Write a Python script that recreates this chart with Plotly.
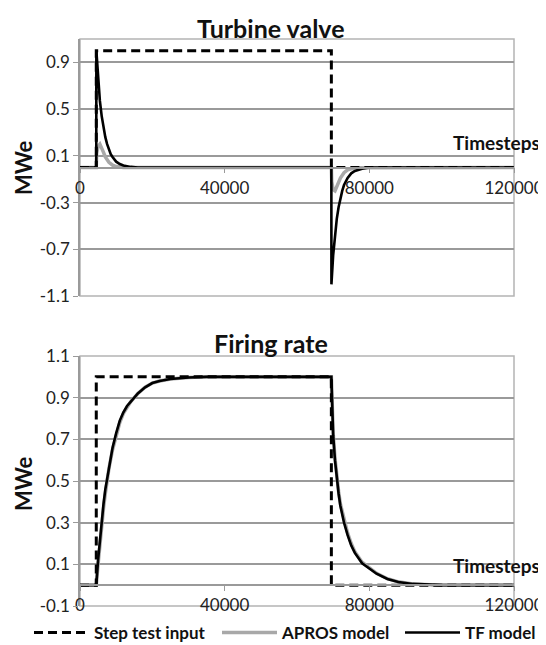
import plotly.graph_objects as go

# page is shown with the browser's default 8px body margin, so the figure is
# sized to fit the 546x645 window and positions are given in window pixels.
OFF = 8
W, H = 546 - OFF, 645 - OFF

# ---------------- data ----------------
step_t = [0, 4500, 4500, 69500, 69500, 120000]
step_v = [0, 0, 1.0, 1.0, 0, 0]

# Turbine valve
tv_tf_t = [0, 4500, 4520, 5000, 5500, 6000, 6500, 7000, 7500, 8000, 8500, 9000, 10000, 11000,
           12000, 14000, 16000, 69500, 69520, 70000, 70500, 71000, 71500, 72000, 72500, 73000,
           74000, 75000, 76000, 78000, 80000, 120000]
tv_tf_v = [0, 0, 1.0, 0.75, 0.57, 0.44, 0.34, 0.26, 0.2, 0.15, 0.115, 0.09, 0.05, 0.03,
           0.017, 0.005, 0.0, 0.0, -1.0, -0.75, -0.57, -0.44, -0.34, -0.26, -0.2, -0.15,
           -0.09, -0.05, -0.03, -0.01, 0.0, 0.0]
tv_ap_t = [0, 4500, 4600, 5000, 5500, 6000, 6500, 7000, 8000, 9000, 10000, 12000,
           69500, 69600, 70000, 70500, 71000, 72000, 73000, 74000, 76000, 120000]
tv_ap_v = [0, 0, 0.12, 0.18, 0.2, 0.17, 0.13, 0.09, 0.045, 0.02, 0.008, 0.0,
           0.0, -0.12, -0.19, -0.2, -0.16, -0.09, -0.045, -0.02, -0.003, 0.0]

# Firing rate
fr_tf_t = [0, 4500, 5000, 5500, 6000, 6500, 7000, 8000, 9000, 10000, 11000, 12000, 13000,
           14000, 15000, 16000, 18000, 20000, 22000, 25000, 30000, 35000, 69500, 69700,
           70000, 70500, 71000, 71500, 72000, 73000, 74000, 75000, 76000, 78000, 80000,
           82000, 85000, 88000, 92000, 100000, 120000]
fr_tf_v = [0, 0, 0.12, 0.22, 0.31, 0.39, 0.46, 0.57, 0.66, 0.73, 0.79, 0.83, 0.86,
           0.88, 0.9, 0.92, 0.95, 0.97, 0.98, 0.99, 0.997, 1.0, 1.0, 0.85,
           0.72, 0.6, 0.51, 0.44, 0.38, 0.3, 0.24, 0.19, 0.155, 0.105, 0.08,
           0.055, 0.03, 0.015, 0.006, 0.0, 0.0]
fr_ap_t = fr_tf_t
fr_ap_v = [0, 0, 0.1, 0.2, 0.29, 0.37, 0.44, 0.56, 0.65, 0.72, 0.78, 0.825, 0.855,
           0.88, 0.9, 0.92, 0.95, 0.97, 0.98, 0.99, 0.997, 1.0, 1.0, 0.86,
           0.73, 0.61, 0.52, 0.45, 0.39, 0.31, 0.25, 0.2, 0.16, 0.11, 0.082,
           0.057, 0.031, 0.016, 0.006, 0.0, 0.0]

x_ticks = [0, 40000, 80000, 120000]
tv_yticks = [-1.1, -0.7, -0.3, 0.1, 0.5, 0.9]
fr_yticks = [-0.1, 0.1, 0.3, 0.5, 0.7, 0.9, 1.1]

titles = ["Turbine valve", "Firing rate"]
names = ["Step test input", "APROS model", "TF model"]

# ---------------- figure ----------------
FONT = "Lato, 'Open Sans', sans-serif"
GRID = "#9a9a9a"
BORDER = "#b4b4b4"
GRAY_LINE = "#a8a8a8"

def py(px):
    return 1 - (px - OFF) / H

def pxx(px):
    return (px - OFF) / W

fig = go.Figure()

dash = "9px,5px"
# top panel
fig.add_trace(go.Scatter(x=tv_ap_t, y=tv_ap_v, mode="lines", line=dict(color=GRAY_LINE, width=3.5),
                         showlegend=False, xaxis="x", yaxis="y"))
fig.add_trace(go.Scatter(x=tv_tf_t, y=tv_tf_v, mode="lines", line=dict(color="black", width=2.6),
                         showlegend=False, xaxis="x", yaxis="y"))
fig.add_trace(go.Scatter(x=step_t, y=step_v, mode="lines", line=dict(color="black", width=3, dash=dash),
                         showlegend=False, xaxis="x", yaxis="y"))
# bottom panel
fig.add_trace(go.Scatter(x=fr_ap_t, y=fr_ap_v, mode="lines", name=names[1], legend="legend2",
                         line=dict(color=GRAY_LINE, width=3.5), xaxis="x2", yaxis="y2"))
fig.add_trace(go.Scatter(x=fr_tf_t, y=fr_tf_v, mode="lines", name=names[2], legend="legend3",
                         line=dict(color="black", width=2.6), xaxis="x2", yaxis="y2"))
fig.add_trace(go.Scatter(x=step_t, y=step_v, mode="lines", name=names[0], legend="legend",
                         line=dict(color="black", width=3, dash=dash), xaxis="x2", yaxis="y2"))

xdom = [pxx(80), pxx(514)]
top_dom = [py(296), py(39)]
bot_dom = [py(606), py(356)]

def zero_pos(dom, lo, hi):
    return dom[0] + (0 - lo) / (hi - lo) * (dom[1] - dom[0])

tick_font = dict(family=FONT, size=17, color="#222")
xaxis_common = dict(range=[0, 120000], tickvals=x_ticks, ticktext=[str(v) for v in x_ticks],
                    showgrid=False, zeroline=False, showline=True, linecolor=GRID, linewidth=1.5,
                    ticks="outside", ticklen=5, tickcolor=GRID, tickfont=tick_font, domain=xdom,
                    anchor="free", automargin=False)
yaxis_common = dict(showgrid=True, gridcolor=GRID, gridwidth=1.5, zeroline=False, showline=True,
                    linecolor=GRID, linewidth=1.5, ticks="outside", ticklen=5, tickcolor=GRID,
                    tickfont=tick_font, anchor="x", automargin=False)

leg_font = dict(family=FONT, size=17, color="#111", weight="bold")
def leg(xpx):
    return dict(orientation="h", xref="paper", yref="paper", x=pxx(xpx), xanchor="left",
                y=py(633), yanchor="middle", font=leg_font, itemwidth=55,
                bgcolor="rgba(0,0,0,0)", borderwidth=0)

fig.update_layout(
    width=W, height=H,
    margin=dict(l=0, r=0, t=0, b=0, autoexpand=False),
    paper_bgcolor="white", plot_bgcolor="white",
    font=dict(family=FONT, color="#222"),
    xaxis=dict(xaxis_common, position=zero_pos(top_dom, -1.1, 1.1)),
    yaxis=dict(yaxis_common, domain=top_dom, range=[-1.1, 1.1], tickvals=tv_yticks,
               ticktext=[f"{v:.1f}" for v in tv_yticks]),
    xaxis2=dict(xaxis_common, position=zero_pos(bot_dom, -0.1, 1.1)),
    yaxis2=dict(yaxis_common, domain=bot_dom, range=[-0.1, 1.1], tickvals=fr_yticks,
                ticktext=[f"{v:.1f}" for v in fr_yticks], anchor="x2"),
    legend=leg(29),
    legend2=leg(217),
    legend3=leg(400),
    showlegend=True,
)

# plot-area borders
for xr, yr in [("x domain", "y domain"), ("x2 domain", "y2 domain")]:
    fig.add_shape(type="rect", xref=xr, yref=yr, x0=0, x1=1, y0=0, y1=1,
                  line=dict(color=BORDER, width=1.5), layer="below")

bold = dict(family=FONT, color="#111", weight="bold")
ann = []
ann.append(dict(text=titles[0], x=pxx(271), y=py(28), xref="paper", yref="paper",
                showarrow=False, font=dict(bold, size=25), xanchor="center", yanchor="middle"))
ann.append(dict(text=titles[1], x=pxx(271), y=py(343), xref="paper", yref="paper",
                showarrow=False, font=dict(bold, size=25), xanchor="center", yanchor="middle"))
for yc in (168, 484):
    ann.append(dict(text="MWe", x=pxx(23), y=py(yc), xref="paper", yref="paper", textangle=-90,
                    showarrow=False, font=dict(bold, size=22), xanchor="center", yanchor="middle"))
for yc in (142, 565):
    ann.append(dict(text="Timesteps", x=pxx(542), y=py(yc), xref="paper", yref="paper",
                    showarrow=False, font=dict(bold, size=19), xanchor="right", yanchor="middle"))
fig.update_layout(annotations=ann)

fig.write_html("out.html")
